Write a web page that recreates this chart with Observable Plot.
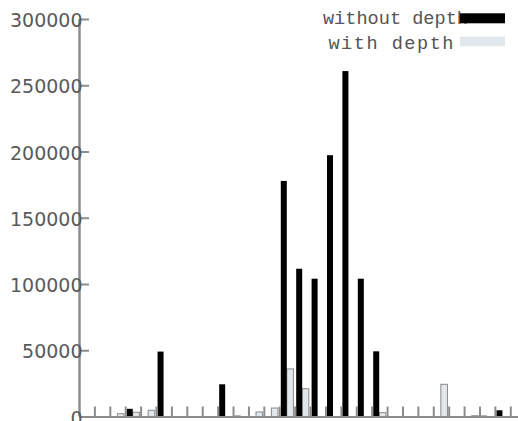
<!DOCTYPE html>
<html>
<head>
<meta charset="utf-8">
<script src="https://cdn.jsdelivr.net/npm/d3@7"></script>
<script src="https://cdn.jsdelivr.net/npm/@observablehq/plot@0.6"></script>
<style>
  html, body { margin: 0; padding: 0; background: #fff; overflow: hidden; }
  #chart svg { display: block; }
</style>
</head>
<body>
<div id="chart"></div>
<script>
// Group index (one cluster per interval between x ticks)
const groups = d3.range(28);
// Series values
const withoutDepth = [0, 0, 0, 5800, 0, 49000, 0, 0, 0, 24300, 600, 0, 0, 177800, 111500, 104000, 197200, 260700, 104000, 49200, 0, 0, 0, 0, 0, 0, 600, 4700];
const withDepth    = [0, 0, 2100, 3200, 4700, 0, 0, 0, 0, 0, 0, 3400, 6400, 35900, 21000, 0, 0, 0, 0, 2900, 0, 0, 0, 24300, 0, 600, 0, 0];
const yTicks = [0, 50000, 100000, 150000, 200000, 250000, 300000];
const xTicks = d3.range(1, 29);
const seriesNames = ["without depth", "with depth"];
const seriesFill = ["#000000", "#e2e7ec"];

const data = groups.map(i => ({i, without: withoutDepth[i], with: withDepth[i]}));
const axisColor = "#8c8c8c";

const chart = Plot.plot({
  width: 518,
  height: 421,
  marginLeft: 79,
  marginRight: 0,
  marginTop: 19,
  marginBottom: 4.5,
  x: {domain: [0, 28.5], axis: null},
  y: {domain: [0, 300000], axis: null},
  style: {background: "#fff"},
  marks: [
    Plot.rect(data.filter(d => d.with > 0), {
      x1: d => d.i + 0.49, x2: d => d.i + 0.92, y1: 0, y2: "with",
      fill: seriesFill[1], stroke: "#8a8a8a", strokeWidth: 1
    }),
    Plot.rect(data.filter(d => d.without > 0), {
      x1: d => d.i + 0.1, x2: d => d.i + 0.49, y1: 0, y2: "without",
      fill: seriesFill[0]
    }),
    Plot.ruleX(xTicks, {x: d => d, y1: 0, y2: 0, insetTop: -10, stroke: axisColor, strokeWidth: 2}),
    Plot.ruleY(yTicks, {y: d => d, x1: 0, x2: 0, insetRight: -10, stroke: axisColor, strokeWidth: 2}),
    Plot.ruleY([0], {stroke: axisColor, strokeWidth: 2}),
    Plot.ruleX([0], {y1: 0, y2: 300000, stroke: axisColor, strokeWidth: 2.5}),
    Plot.text(yTicks, {
      x: 0, y: d => d, text: d => String(d), textAnchor: "end", lineAnchor: "middle",
      dx: 3, dy: 1.5, fontSize: 19, fill: "#5a5a5a", fontFamily: "DejaVu Sans"
    })
  ]
});

// Legend (gnuplot-style, top right, inside the plot)
const svg = d3.select(chart);
const legendLayout = [
  {textEnd: 468, baseline: 23.5, sx: 460, sy: 13.3, sw: 45, sh: 10},
  {textEnd: 455, baseline: 48.5, sx: 460, sy: 36.7, sw: 45, sh: 9.5}
];
const lg = svg.append("g").attr("class", "legend");
seriesNames.forEach((name, k) => {
  const L = legendLayout[k];
  lg.append("text")
    .attr("x", L.textEnd).attr("y", L.baseline)
    .attr("text-anchor", "end")
    .attr("font-family", "Liberation Mono, DejaVu Sans Mono, monospace")
    .attr("font-size", 18.6)
    .attr("letter-spacing", k === 1 ? 1.5 : 0)
    .attr("fill", "#555")
    .text(name);
  lg.append("rect")
    .attr("x", L.sx).attr("y", L.sy).attr("width", L.sw).attr("height", L.sh)
    .attr("fill", seriesFill[k]);
});

document.getElementById("chart").appendChild(chart);
</script>
</body>
</html>
